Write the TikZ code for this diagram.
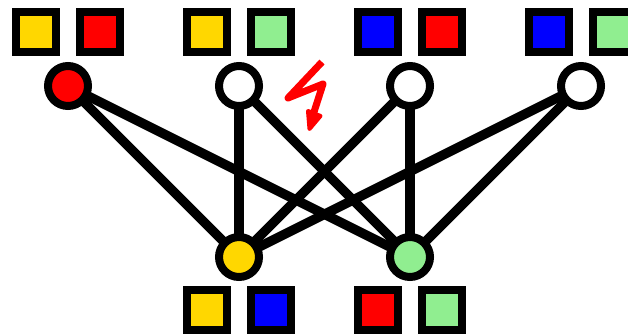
\documentclass[tikz,border=0pt]{standalone}
\definecolor{cgold}{HTML}{FFD700}
\definecolor{cgreen}{HTML}{90EE90}
\definecolor{cred}{HTML}{FF0000}
\definecolor{cblue}{HTML}{0000FF}
\tikzset{
  tile/.style={draw=black,line width=8pt,fill=#1,rectangle,minimum size=40pt,inner sep=0pt,outer sep=0pt},
  vertex/.style={draw=black,line width=8pt,fill=#1,circle,minimum size=40pt,inner sep=0pt,outer sep=0pt},
  edgeline/.style={draw=black,line width=9.5pt},
  bolt/.style={draw=cred,line width=7pt,line join=round},
  bolthead/.style={draw=cred,fill=cred,line width=4pt,line join=round}
}
\begin{document}
\begin{tikzpicture}[x=1pt,y=-1pt]
\useasboundingbox (0,0) rectangle (628,334);
\coordinate (a) at (68,86);
\coordinate (b) at (239,86);
\coordinate (c) at (410,86);
\coordinate (d) at (581,86);
\coordinate (y) at (239,257);
\coordinate (g) at (410,257);
\foreach \p/\q in {a/y,a/g,b/y,b/g,c/y,c/g,d/y,d/g}
  \draw[edgeline] (\p) -- (\q);
\node[vertex=cred] (na) at (a) {};
\node[vertex=white] (nb) at (b) {};
\node[vertex=white] (nc) at (c) {};
\node[vertex=white] (nd) at (d) {};
\node[vertex=cgold] (ny) at (y) {};
\node[vertex=cgreen] (ng) at (g) {};
% top tiles
\node[tile=cgold] (t1) at (36,32) {};
\node[tile=cred] (t2) at (100,32) {};
\node[tile=cgold] (t3) at (207,32) {};
\node[tile=cgreen] (t4) at (271,32) {};
\node[tile=cblue] (t5) at (378,32) {};
\node[tile=cred] (t6) at (442,32) {};
\node[tile=cblue] (t7) at (549,32) {};
\node[tile=cgreen] (t8) at (613,32) {};
% bottom tiles
\node[tile=cgold] (b1) at (207,310) {};
\node[tile=cblue] (b2) at (271,310) {};
\node[tile=cred] (b3) at (378,310) {};
\node[tile=cgreen] (b4) at (442,310) {};
% lightning bolt
\coordinate (z1) at (322,62);
\coordinate (z2) at (288,98);
\coordinate (z3) at (323,84);
\coordinate (z4) at (314,112);
\coordinate (h1) at (308,111);
\coordinate (h2) at (320.5,116);
\coordinate (h3) at (309.5,129);
\draw[bolt] (z1) -- (z2) -- (z3) -- (z4);
\filldraw[bolthead] (h1) -- (h2) -- (h3) -- cycle;
\end{tikzpicture}
\end{document}
